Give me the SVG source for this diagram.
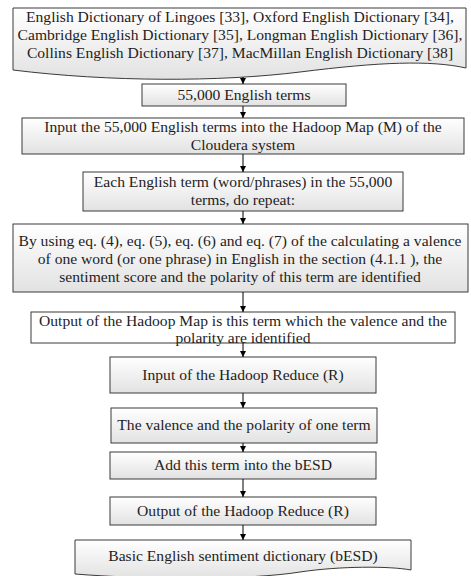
<svg xmlns="http://www.w3.org/2000/svg" width="471" height="576" viewBox="0 0 471 576">
  <defs>
    <linearGradient id="boxFill" x1="0" y1="0" x2="0" y2="1">
      <stop offset="0" stop-color="#ffffff"/>
      <stop offset="1" stop-color="#e2e2e2"/>
    </linearGradient>
    <marker id="arrow" viewBox="0 0 6 6" refX="6" refY="3" markerWidth="6" markerHeight="6" orient="auto" markerUnits="userSpaceOnUse">
      <path d="M0,0 L6,3 L0,6 Z" fill="#000"/>
    </marker>
  </defs>
  <style>
    .box { fill: url(#boxFill); stroke: #3a3a3a; stroke-width: 1; }
    .plain { fill: #ffffff; stroke: #3a3a3a; stroke-width: 1; }
    .lbl { font-family: "Liberation Serif", "Times New Roman", serif; font-size: 15.6px; fill: #1e1e1e; text-anchor: middle; }
    .link { stroke: #000; stroke-width: 1; fill: none; marker-end: url(#arrow); }
  </style>
  <rect width="471" height="576" fill="#ffffff"/>

  <!-- source dictionaries (document shape) -->
  <g id="sources">
    <path class="box" d="M13,8 H466 V68 C430,60 380,62 300,72 C220,82 110,82 13,70 Z"/>
    <text class="lbl" x="240" y="22">English Dictionary of Lingoes [33], Oxford English Dictionary [34],</text>
    <text class="lbl" x="240" y="40">Cambridge English Dictionary [35], Longman English Dictionary [36],</text>
    <text class="lbl" x="240" y="58">Collins English Dictionary [37], MacMillan English Dictionary [38]</text>
  </g>

  <g id="terms">
    <rect class="box" x="142" y="84" width="204" height="22"/>
    <text class="lbl" x="244" y="100">55,000 English terms</text>
  </g>

  <g id="input-map">
    <rect class="box" x="22" y="118" width="442" height="36"/>
    <text class="lbl" x="243" y="132">Input the 55,000 English terms into the Hadoop Map (M) of the</text>
    <text class="lbl" x="243" y="150">Cloudera system</text>
  </g>

  <g id="each-term">
    <rect class="box" x="83" y="172" width="320" height="39"/>
    <text class="lbl" x="243" y="187">Each English term (word/phrases) in the 55,000</text>
    <text class="lbl" x="243" y="205">terms, do repeat:</text>
  </g>

  <g id="calculate">
    <rect class="box" x="13" y="224" width="455" height="68"/>
    <text class="lbl" x="240" y="246">By using eq. (4), eq. (5), eq. (6) and eq. (7) of the calculating a valence</text>
    <text class="lbl" x="240" y="264">of one word (or one phrase) in English in the section (4.1.1 ), the</text>
    <text class="lbl" x="240" y="282">sentiment score and the polarity of this term are identified</text>
  </g>

  <g id="map-output">
    <rect class="plain" x="31" y="312" width="424" height="31"/>
    <text class="lbl" x="243" y="326">Output of the Hadoop Map is this term which the valence and the</text>
    <text class="lbl" x="243" y="343">polarity are identified</text>
  </g>

  <g id="reduce-input">
    <rect class="box" x="110" y="357" width="266" height="36"/>
    <text class="lbl" x="243" y="380">Input of the Hadoop Reduce (R)</text>
  </g>

  <g id="valence">
    <rect class="box" x="111" y="408" width="266" height="35"/>
    <text class="lbl" x="244" y="430">The valence and the polarity of one term</text>
  </g>

  <g id="add-term">
    <rect class="box" x="110" y="452" width="266" height="27"/>
    <text class="lbl" x="243" y="470">Add this term into the bESD</text>
  </g>

  <g id="reduce-output">
    <rect class="box" x="110" y="497" width="266" height="28"/>
    <text class="lbl" x="243" y="516">Output of the Hadoop Reduce (R)</text>
  </g>

  <!-- result dictionary (document shape) -->
  <g id="besd">
    <path class="box" d="M75,540 H411 V570 C390,566 340,566 300,572 C250,580 150,580 75,574 Z"/>
    <text class="lbl" x="243" y="561">Basic English sentiment dictionary (bESD)</text>
  </g>

  <g id="connectors">
    <line class="link" x1="243" y1="77" x2="243" y2="84"/>
    <line class="link" x1="243" y1="106" x2="243" y2="118"/>
    <line class="link" x1="243" y1="154" x2="243" y2="172"/>
    <line class="link" x1="243" y1="211" x2="243" y2="224"/>
    <line class="link" x1="243" y1="292" x2="243" y2="312"/>
    <line class="link" x1="243" y1="343" x2="243" y2="357"/>
    <line class="link" x1="243" y1="393" x2="243" y2="408"/>
    <line class="link" x1="243" y1="443" x2="243" y2="452"/>
    <line class="link" x1="243" y1="479" x2="243" y2="497"/>
    <line class="link" x1="243" y1="525" x2="243" y2="540"/>
  </g>
</svg>
